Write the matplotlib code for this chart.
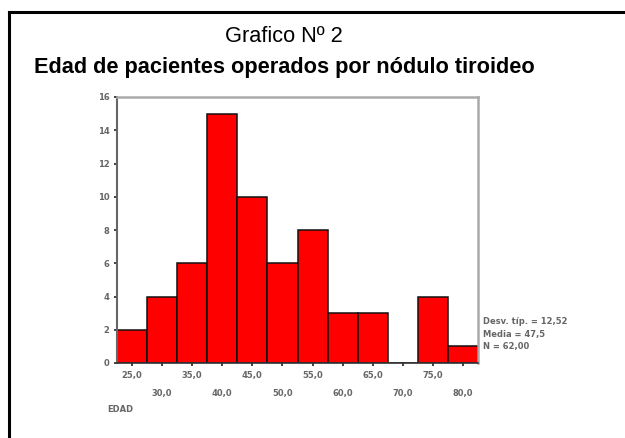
import matplotlib
matplotlib.use("Agg")
import matplotlib.pyplot as plt
from matplotlib.lines import Line2D

plt.rcParams['font.family'] = ['Liberation Sans', 'DejaVu Sans']

# Data
age_centers = [25, 30, 35, 40, 45, 50, 55, 60, 65, 70, 75, 80]
counts = [2, 4, 6, 15, 10, 6, 8, 3, 3, 0, 4, 1]
tick_labels = ["25,0", "30,0", "35,0", "40,0", "45,0", "50,0",
               "55,0", "60,0", "65,0", "70,0", "75,0", "80,0"]
y_ticks = [0, 2, 4, 6, 8, 10, 12, 14, 16]
stats_lines = ["Desv. típ. = 12,52", "Media = 47,5", "N = 62,00"]
title1 = "Grafico Nº 2"
title2 = "Edad de pacientes operados por nódulo tiroideo"
xlabel = "EDAD"

small = dict(family='DejaVu Sans', fontweight='bold', fontsize=6, color='#666666')

fig = plt.figure(figsize=(6.25, 4.38), dpi=100)
fig.patch.set_facecolor('white')

# partial outer frame (top and left visible)
fig.add_artist(Line2D([8.5/625, 8.5/625], [0, 1 - 12/438], color='black', lw=2.2,
                      transform=fig.transFigure))
fig.add_artist(Line2D([8.5/625, 1], [1 - 12/438, 1 - 12/438], color='black', lw=2.2,
                      transform=fig.transFigure))

fig.text(284/625, 1 - 37/438, title1, ha='center', va='center', fontsize=15.7)
fig.text(284/625, 1 - 67/438, title2, ha='center', va='center', fontsize=15.7, fontweight='bold')

ax = fig.add_axes([117/625, 75/438, (478-117)/625, (363-97)/438])
ax.bar(age_centers, counts, width=5, color='#ff0000', edgecolor='#111111', linewidth=1.1)
ax.set_xlim(22.5, 82.5)
ax.set_ylim(0, 16)
ax.set_yticks(y_ticks)
ax.set_yticklabels([str(v) for v in y_ticks], **small)
ax.set_xticks(age_centers)
labs = []
for i, t in enumerate(tick_labels):
    labs.append(t if i % 2 == 0 else "\n" + t)
ax.set_xticklabels(labs, linespacing=2.3, **small)
ax.tick_params(axis='both', length=2.5, width=1.2, color='#222222', pad=3)
for s in ['top', 'right']:
    ax.spines[s].set_color('#aaaaaa')
    ax.spines[s].set_linewidth(1.8)
ax.spines['bottom'].set_color('#333333')
ax.spines['bottom'].set_linewidth(1.2)
ax.spines['left'].set_color('#666666')
ax.spines['left'].set_linewidth(1.5)

for i, s in enumerate(stats_lines):
    fig.text(483/625, 1 - (322 + 12*i)/438, s, ha='left', va='center', **small)

fig.text(107/625, 1 - 410/438, xlabel, ha='left', va='center', **small)

fig.savefig('out.png', dpi=100)
